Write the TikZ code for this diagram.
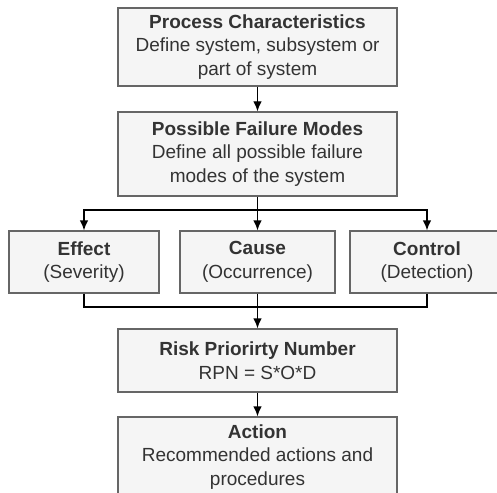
\documentclass[tikz,border=0pt]{standalone}
\usepackage{fontspec}
\setmainfont{Liberation Sans}
\usetikzlibrary{arrows.meta}
\definecolor{boxfill}{HTML}{F5F5F5}
\definecolor{boxline}{HTML}{666666}
\definecolor{boxtext}{HTML}{333333}
\begin{document}
\begin{tikzpicture}[x=1pt,y=-1pt,
  stagebox/.style={draw=boxline,fill=boxfill,line width=1.3pt,inner sep=0pt,
    text=boxtext,align=center,font=\fontsize{19}{23.5}\selectfont},
  flow/.style={line width=1.3pt,draw=black,-{Latex[length=10pt,width=8.5pt]}},
  link/.style={line width=1.3pt,draw=black}]
  \useasboundingbox (0,0) rectangle (497,492);
  \clip (0,0) rectangle (497,492);
  \fill[white] (0,0) rectangle (497,492);

  \node[stagebox,minimum width=279pt,minimum height=78pt] (proc) at (257.5,47)
    {\textbf{Process Characteristics}\\Define system, subsystem or\\part of system};
  \node[stagebox,minimum width=279pt,minimum height=84pt] (modes) at (257.5,154)
    {\textbf{Possible Failure Modes}\\Define all possible failure\\modes of the system};
  \node[stagebox,minimum width=150pt,minimum height=62pt] (effect) at (84,262)
    {\textbf{Effect}\\(Severity)};
  \node[stagebox,minimum width=155pt,minimum height=62pt] (cause) at (257.5,262)
    {\textbf{Cause}\\(Occurrence)};
  \node[stagebox,minimum width=154pt,minimum height=62pt] (control) at (427,262)
    {\textbf{Control}\\(Detection)};
  \node[stagebox,minimum width=279pt,minimum height=63pt] (rpn) at (257.5,360.5)
    {\textbf{Risk Priorirty Number}\\RPN = S*O*D};
  % the last box runs on past the lower edge of the page;
  % a short empty last line lifts its text a little
  \node[stagebox,minimum width=279pt,minimum height=82pt] (action) at (257.5,458)
    {\textbf{Action}\\Recommended actions and\\procedures\\[-17.5pt]\mbox{}};

  \coordinate (split) at (257.5,210);
  \coordinate (merge) at (257.5,307);

  \draw[flow] (proc) -- (modes);
  \draw[link] (modes.south) -- (split);
  \draw[flow] (split) -| (effect.north);
  \draw[flow] (split) -| (control.north);
  \draw[flow] (split) -- (cause.north);

  \draw[link] (effect.south) |- (merge);
  \draw[link] (control.south) |- (merge);
  \draw[flow] (cause.south) -- (rpn.north);
  \draw[flow] (rpn) -- (action);
\end{tikzpicture}
\end{document}
